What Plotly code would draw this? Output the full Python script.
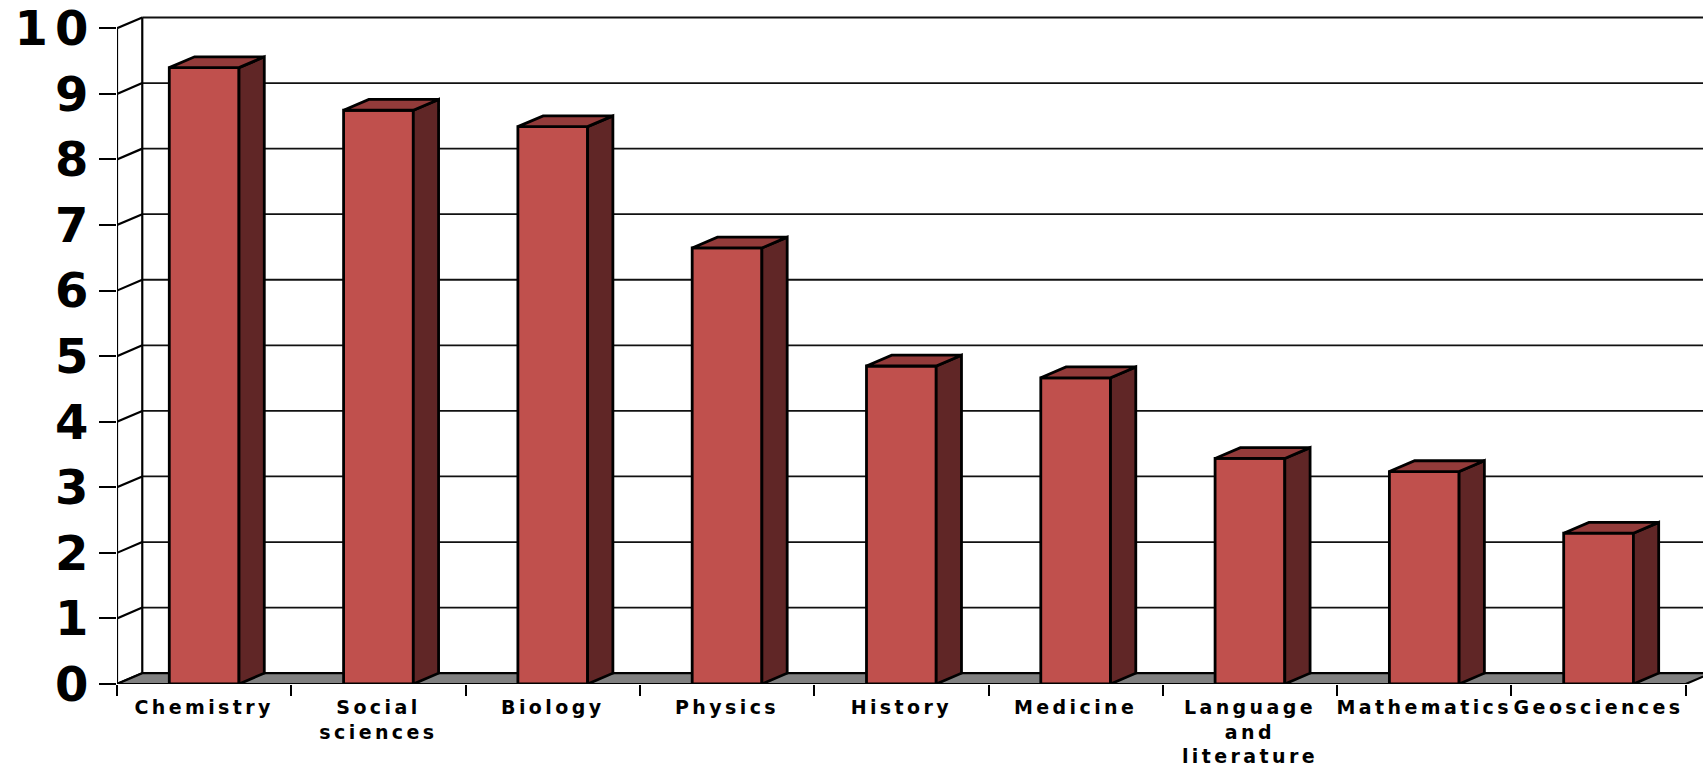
import plotly.graph_objects as go

# ---- data ----
categories = ["Chemistry", "Social sciences", "Biology", "Physics", "History",
              "Medicine", "Language and literature", "Mathematics", "Geosciences"]
label_lines = [["Chemistry"], ["Social", "sciences"], ["Biology"], ["Physics"], ["History"],
               ["Medicine"], ["Language", "and", "literature"], ["Mathematics"], ["Geosciences"]]
values = [9.4, 8.75, 8.5, 6.65, 4.85, 4.67, 3.44, 3.24, 2.3]
y_ticks = list(range(0, 11))

# ---- style ----
FRONT = "#C0504D"
SIDE = "#602626"
TOP = "#933B3A"
FLOOR = "#808080"
BAR_W = 0.4
DX = 0.145   # depth offset (category units)
DY = 0.165   # depth offset (value units)
W, H = 1703, 766
ML, MB = 117, 82
px_per_cat = 174.3
px_per_val = 65.57
XMIN = -0.5
XMAX = XMIN + (W - ML) / px_per_cat
YMAX = (H - MB) / px_per_val
n = len(categories)
xs = list(range(n))

fig = go.Figure()

# front faces
fig.add_trace(go.Bar(x=xs, y=values, width=BAR_W,
                     marker=dict(color=FRONT, line=dict(color="black", width=2.8)),
                     hoverinfo="skip"))

# side faces
sx, sy = [], []
for i, v in zip(xs, values):
    r = i + BAR_W / 2
    sx += [r, r, r + DX, r + DX, r, None]
    sy += [0, v, v + DY, DY, 0, None]
fig.add_trace(go.Scatter(x=sx, y=sy, mode="lines", fill="toself", fillcolor=SIDE,
                         line=dict(color="black", width=2.8), hoverinfo="skip"))

# top faces
tx, ty = [], []
for i, v in zip(xs, values):
    l, r = i - BAR_W / 2, i + BAR_W / 2
    tx += [l, r, r + DX, l + DX, l, None]
    ty += [v, v, v + DY, v + DY, v, None]
fig.add_trace(go.Scatter(x=tx, y=ty, mode="lines", fill="toself", fillcolor=TOP,
                         line=dict(color="black", width=2.8), hoverinfo="skip"))

shapes = []
# back wall gridlines
for t in y_ticks:
    shapes.append(dict(type="line", xref="x", yref="y", layer="below",
                       x0=XMIN + DX, x1=XMAX + 1, y0=t + DY, y1=t + DY,
                       line=dict(color="#111111", width=1.8)))
# back wall left edge
shapes.append(dict(type="line", xref="x", yref="y", layer="below",
                   x0=XMIN + DX, x1=XMIN + DX, y0=DY, y1=y_ticks[-1] + DY,
                   line=dict(color="black", width=2.2)))
# side wall connectors
for t in y_ticks:
    shapes.append(dict(type="line", xref="x", yref="y", layer="below",
                       x0=XMIN, x1=XMIN + DX, y0=t, y1=t + DY,
                       line=dict(color="black", width=2.2)))
# front vertical axis
shapes.append(dict(type="line", xref="x", yref="y", layer="below",
                   x0=XMIN, x1=XMIN, y0=0, y1=y_ticks[-1],
                   line=dict(color="black", width=2.2)))
# floor
xe = XMIN + n
shapes.append(dict(type="path", xref="x", yref="y", layer="below",
                   path=f"M {XMIN},0 L {xe},0 L {xe + DX},{DY} L {XMIN + DX},{DY} Z",
                   fillcolor=FLOOR, line=dict(color="black", width=2.2)))

ticktext = ["<br>".join(f'<span style="letter-spacing:3.4px">{s}</span>' for s in lines)
            for lines in label_lines]

fig.update_layout(
    width=W, height=H,
    margin=dict(l=ML, r=0, t=0, b=MB, pad=0, autoexpand=False),
    plot_bgcolor="white", paper_bgcolor="white",
    showlegend=False, shapes=shapes,
    xaxis=dict(range=[XMIN, XMAX], tickmode="array", tickvals=xs, ticktext=ticktext,
               ticks="", showgrid=False, zeroline=False, showline=False,
               tickangle=0, automargin=False,
               tickfont=dict(family="DejaVu Sans", size=19, color="black", weight="bold"),
               ticklabelstandoff=10,
               minor=dict(tickmode="array", tickvals=[i - 0.5 for i in range(n + 1)],
                          ticks="outside", ticklen=11, tickwidth=2, tickcolor="black",
                          showgrid=False)),
    yaxis=dict(range=[0, YMAX], tickmode="array", tickvals=y_ticks,
               ticktext=[f'<span style="letter-spacing:7px">{t}</span>' for t in y_ticks],
               ticks="outside", ticklen=17, tickwidth=2, tickcolor="black",
               showgrid=False, zeroline=False, showline=False, automargin=False,
               tickfont=dict(family="DejaVu Sans", size=48, color="black", weight="bold"),
               ticklabelstandoff=-6),
)

fig.write_html("out.html")
